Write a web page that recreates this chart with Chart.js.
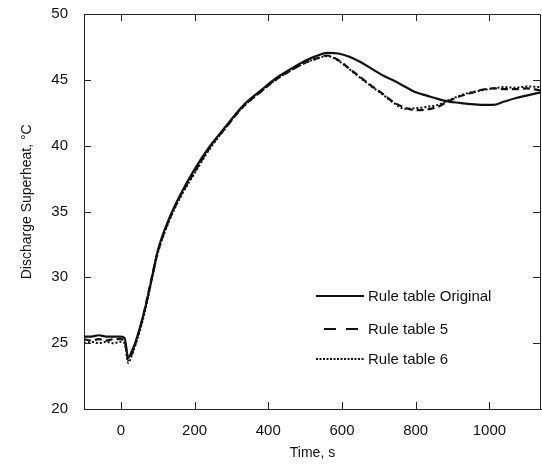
<!DOCTYPE html>
<html>
<head>
<meta charset="utf-8">
<script src="https://cdn.jsdelivr.net/npm/chart.js@4"></script>
<style>
  html, body { margin: 0; padding: 0; background: #fff; }
  #wrap { width: 542px; height: 464px; position: relative; }
</style>
</head>
<body>
<div id="wrap"><canvas id="c" width="542" height="464"></canvas></div>
<script>
// ---- Data ----
const times = [-100,-80,-60,-40,-20,0,10,20,30,40,60,80,100,130,160,200,240,280,330,380,420,460,500,530,560,590,620,650,680,710,740,770,800,830,860,890,920,950,980,1010,1040,1070,1100,1140];

const ruleOriginal = [25.5,25.5,25.6,25.5,25.5,25.5,25.4,23.9,24.4,25.1,27.0,29.4,32.0,34.4,36.2,38.2,39.9,41.3,43.0,44.2,45.1,45.8,46.45,46.8,47.05,47.0,46.75,46.35,45.85,45.35,44.95,44.5,44.05,43.8,43.55,43.35,43.25,43.15,43.1,43.1,43.35,43.6,43.8,44.05];

const rule5 = [25.3,25.2,25.3,25.2,25.3,25.3,25.2,23.7,24.2,25.0,27.0,29.5,31.9,34.3,36.1,38.0,39.8,41.2,42.9,44.1,45.0,45.7,46.3,46.6,46.85,46.5,45.85,45.2,44.55,43.95,43.3,42.9,42.7,42.75,42.95,43.4,43.75,44.0,44.25,44.35,44.3,44.3,44.35,44.2];

const rule6 = [25.0,25.1,25.0,25.1,25.0,25.1,25.0,23.5,24.1,24.9,26.8,29.3,31.8,34.2,36.0,37.9,39.7,41.2,42.9,44.1,45.0,45.7,46.3,46.6,46.8,46.45,45.8,45.15,44.5,43.9,43.25,42.8,42.85,42.95,43.1,43.45,43.8,44.05,44.2,44.35,44.45,44.4,44.5,44.45];

const seriesNames = ["Rule table Original", "Rule table 5", "Rule table 6"];
const xTicks = [0,200,400,600,800,1000];
const yTicks = [20,25,30,35,40,45,50];
const xTitle = "Time, s";
const yTitle = "Discharge Superheat, °C";

// ---- Styling ----
const FONT = '"Liberation Sans", Arial, Helvetica, sans-serif';
const INK = '#111';
const styles = [
  { dash: [], width: 2.2, legendDash: [], legendFrom: 0, legendTo: 48 },
  { dash: [7, 4], width: 2.2, legendDash: [12, 10], legendFrom: 8, legendTo: 43 },
  { dash: [2, 2], width: 2, legendDash: [2, 1.5], legendFrom: 0, legendTo: 48 }
];

function pts(vals) { return times.map((t, i) => ({ x: t, y: vals[i] })); }

const allSeries = [ruleOriginal, rule5, rule6];
const datasets = allSeries.map((vals, i) => ({
  label: seriesNames[i],
  data: pts(vals),
  borderColor: INK,
  borderWidth: styles[i].width,
  borderDash: styles[i].dash,
  pointRadius: 0,
  fill: false,
  tension: 0.35,
  cubicInterpolationMode: 'monotone'
}));

const frameAndTicks = {
  id: 'frameAndTicks',
  afterDraw(chart) {
    const { ctx, chartArea: a, scales } = chart;
    const xs = scales.x, ys = scales.y;
    const L = 7;
    ctx.save();
    ctx.strokeStyle = '#222';
    ctx.lineWidth = 1;
    ctx.setLineDash([]);
    // frame
    ctx.beginPath();
    ctx.rect(Math.round(a.left) + 0.5, Math.round(a.top) + 0.5,
             Math.round(a.right - a.left) - 1, Math.round(a.bottom - a.top));
    ctx.stroke();
    // inward ticks
    ctx.beginPath();
    xTicks.forEach(v => {
      const px = Math.round(xs.getPixelForValue(v)) + 0.5;
      ctx.moveTo(px, a.bottom); ctx.lineTo(px, a.bottom - L);
      ctx.moveTo(px, a.top); ctx.lineTo(px, a.top + L);
    });
    yTicks.forEach(v => {
      const py = Math.round(ys.getPixelForValue(v)) + 0.5;
      ctx.moveTo(a.left, py); ctx.lineTo(a.left + L, py);
      ctx.moveTo(a.right - 1, py); ctx.lineTo(a.right - 1 - L, py);
    });
    ctx.stroke();

    // legend inside plot
    const lx = a.left + 232, tx = lx + 52;
    const rowY = [a.top + 282, a.top + 315, a.top + 345];
    ctx.font = '15px ' + FONT;
    ctx.fillStyle = INK;
    ctx.textBaseline = 'middle';
    ctx.textAlign = 'left';
    seriesNames.forEach((name, i) => {
      const s = styles[i];
      ctx.strokeStyle = INK;
      ctx.lineWidth = s.width;
      ctx.setLineDash(s.legendDash);
      ctx.beginPath();
      ctx.moveTo(lx + s.legendFrom, rowY[i]);
      ctx.lineTo(lx + s.legendTo, rowY[i]);
      ctx.stroke();
      ctx.fillText(name, tx, rowY[i] + 1);
    });
    ctx.restore();
  }
};

new Chart(document.getElementById('c'), {
  type: 'line',
  data: { datasets },
  options: {
    responsive: false,
    animation: false,
    events: [],
    layout: { padding: { top: 14, right: 1, left: 0, bottom: 0 } },
    plugins: { legend: { display: false }, tooltip: { enabled: false } },
    scales: {
      x: {
        type: 'linear',
        min: -100,
        max: 1140,
        grid: { display: false, drawTicks: false },
        border: { display: true, color: '#222', width: 1 },
        afterBuildTicks(scale) { scale.ticks = xTicks.map(v => ({ value: v })); },
        afterFit(scale) { scale.height = 55; scale.paddingLeft = 0; scale.paddingRight = 0; },
        ticks: {
          color: INK,
          font: { family: FONT, size: 15 },
          padding: 13,
          maxRotation: 0,
          autoSkip: false,
          callback: v => String(v)
        },
        title: {
          display: true,
          text: xTitle,
          color: INK,
          font: { family: FONT, size: 14 },
          padding: { top: 0, bottom: 2 }
        }
      },
      y: {
        type: 'linear',
        min: 20,
        max: 50,
        grid: { display: false, drawTicks: false },
        border: { display: true, color: '#222', width: 1 },
        afterBuildTicks(scale) { scale.ticks = yTicks.map(v => ({ value: v })); },
        afterFit(scale) { scale.width = 84; scale.paddingTop = 0; scale.paddingBottom = 0; },
        ticks: {
          color: INK,
          font: { family: FONT, size: 15 },
          padding: 16,
          autoSkip: false,
          callback: v => String(v)
        },
        title: {
          display: true,
          text: '     ' + yTitle,
          color: INK,
          font: { family: FONT, size: 14 },
          padding: { top: 19, bottom: 0 }
        }
      }
    }
  },
  plugins: [frameAndTicks]
});
</script>
</body>
</html>
